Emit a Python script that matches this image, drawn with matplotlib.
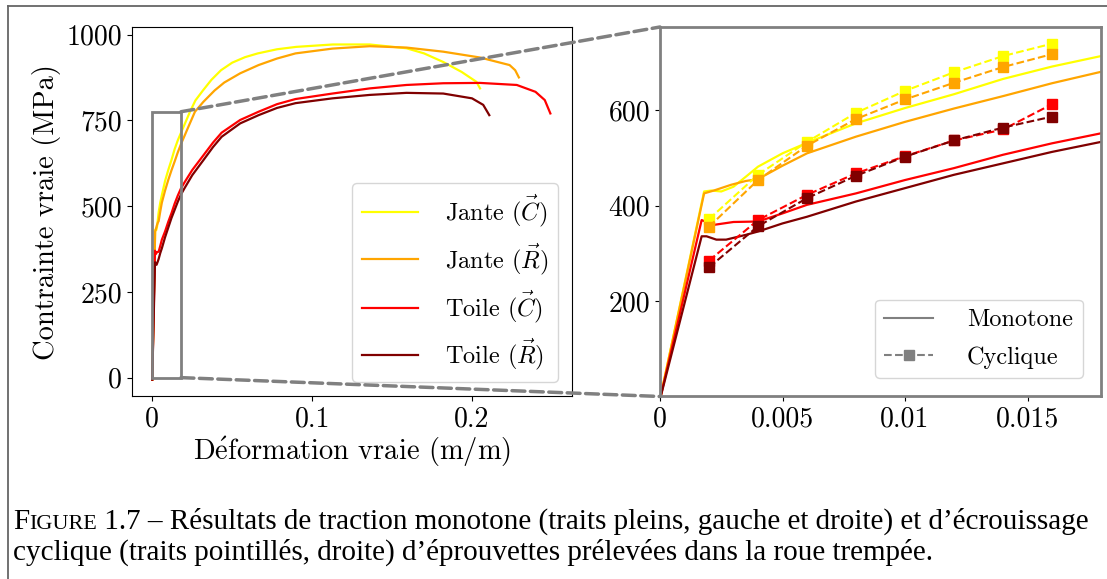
import matplotlib
matplotlib.use('Agg')
import matplotlib.pyplot as plt
from matplotlib.patches import Rectangle, ConnectionPatch
from matplotlib.lines import Line2D

plt.rcParams['font.family'] = 'serif'
plt.rcParams['font.serif'] = ['cmr10']
plt.rcParams['mathtext.fontset'] = 'cm'
plt.rcParams['axes.unicode_minus'] = False
plt.rcParams['axes.formatter.use_mathtext'] = True

# monotone tests: true strain (m/m) / true stress (MPa)
eps_jc = [0, 0.0018, 0.0021, 0.0025, 0.003, 0.0036, 0.004, 0.005, 0.006, 0.008, 0.010, 0.012,
          0.014, 0.016, 0.018, 0.0236, 0.027, 0.0317, 0.037, 0.043, 0.05, 0.058, 0.066, 0.078,
          0.09, 0.113, 0.136, 0.159, 0.170, 0.182, 0.1935, 0.2028, 0.205]
sig_jc = [-6, 430, 432, 430, 440, 465, 482, 510, 532, 573, 605, 634,
          666, 692, 714, 775, 808, 837, 868, 896, 918, 934, 945, 957,
          964, 971, 971, 960, 945, 920, 891, 862, 843]

eps_jr = [0, 0.0018, 0.0022, 0.0029, 0.0035, 0.004, 0.005, 0.006, 0.008, 0.010, 0.012, 0.014,
          0.016, 0.018, 0.0225, 0.0267, 0.032, 0.039, 0.045, 0.055, 0.0665, 0.078, 0.0896,
          0.1127, 0.136, 0.159, 0.182, 0.205, 0.2235, 0.227, 0.2293]
sig_jr = [-6, 426, 432, 444, 452, 456, 484, 510, 545, 576, 604, 630,
          657, 681, 730, 775, 804, 837, 860, 887, 911, 930, 945,
          959, 966, 962, 950, 933, 911, 896, 875]

eps_tc = [0, 0.0017, 0.0022, 0.003, 0.004, 0.005, 0.006, 0.008, 0.010, 0.012, 0.014, 0.016,
          0.018, 0.0203, 0.025, 0.032, 0.038, 0.0434, 0.055, 0.0665, 0.078, 0.0896, 0.1127,
          0.136, 0.159, 0.182, 0.205, 0.228, 0.2397, 0.2455, 0.249]
sig_tc = [-6, 370, 360, 366, 367, 384, 402, 426, 454, 479, 507, 531,
          552, 570, 605, 648, 685, 714, 751, 775, 797, 812, 828,
          843, 853, 858, 859, 853, 833, 809, 770]

eps_tr = [0, 0.0017, 0.0019, 0.0023, 0.0027, 0.0035, 0.004, 0.005, 0.006, 0.008, 0.010, 0.012,
          0.014, 0.016, 0.018, 0.0203, 0.025, 0.032, 0.038, 0.0434, 0.055, 0.0665, 0.078,
          0.0896, 0.1127, 0.136, 0.159, 0.182, 0.2, 0.207, 0.2108]
sig_tr = [-6, 336, 336, 329, 329, 339, 346, 363, 377, 409, 437, 465,
          489, 513, 534, 553, 590, 634, 672, 702, 741, 765, 786,
          800, 814, 824, 830, 828, 814, 795, 765]

# cyclic hardening points
eps_cyc = [0.002, 0.004, 0.006, 0.008, 0.010, 0.012, 0.014, 0.016]
cyc_jc = [372, 465, 534, 595, 641, 680, 714, 740]
cyc_jr = [356, 454, 526, 582, 623, 658, 691, 718]
cyc_tc = [285, 370, 423, 468, 504, 537, 560, 613]
cyc_tr = [271, 357, 416, 463, 503, 537, 564, 587]

labels = [r'Jante ($\vec{C}$)', r'Jante ($\vec{R}$)', r'Toile ($\vec{C}$)', r'Toile ($\vec{R}$)']
colors = ['#ffff00', '#ffa500', '#ff0000', '#800000']

fig = plt.figure(figsize=(11.07, 5.79), dpi=100)
ax1 = fig.add_axes([0.1192, 0.3152, 0.3979, 0.6382])
ax2 = fig.add_axes([0.5962, 0.3152, 0.3984, 0.6382])

mono = [(eps_jc, sig_jc), (eps_jr, sig_jr), (eps_tc, sig_tc), (eps_tr, sig_tr)]
for (e, s), c, lab in zip(mono, colors, labels):
    ax1.plot(e, s, color=c, lw=1.6, label=lab)
    ax2.plot(e, s, color=c, lw=1.6)

for cyc, c in zip([cyc_jc, cyc_jr, cyc_tc, cyc_tr], colors):
    ax2.plot(eps_cyc, cyc, '--s', color=c, lw=1.5, ms=7)

# left axes
ax1.set_xlim(-0.0127, 0.2628)
ax1.set_ylim(-55, 1022)
ax1.set_xticks([0, 0.1, 0.2])
ax1.set_xticklabels(['0', '0.1', '0.2'])
ax1.set_yticks([0, 250, 500, 750, 1000])
ax1.set_yticklabels(['0', '250', '500', '750', '1000'])
ax1.tick_params(labelsize=20)
ax1.set_xlabel(r'D$\acute{\mathrm{e}}$formation vraie (m/m)', fontsize=20.5, labelpad=2)
ax1.set_ylabel('Contrainte vraie (MPa)', fontsize=20.5)
ax1.legend(loc='lower right', fontsize=17.5, handlelength=2.3, handletextpad=1.1,
           borderaxespad=0.6)

# zoom box
ax1.add_patch(Rectangle((0, 0), 0.018, 775, fill=False, edgecolor='gray', lw=2, zorder=5))

# right axes
ax2.set_xlim(0, 0.018)
ax2.set_ylim(0, 775)
ax2.set_xticks([0, 0.005, 0.01, 0.015])
ax2.set_xticklabels(['0', '0.005', '0.01', '0.015'])
ax2.set_yticks([200, 400, 600])
ax2.set_yticklabels(['200', '400', '600'])
ax2.tick_params(labelsize=20)
for sp in ax2.spines.values():
    sp.set_edgecolor('gray')
    sp.set_linewidth(2)
handles = [Line2D([], [], color='gray', lw=1.5, label='Monotone'),
           Line2D([], [], color='gray', ls='--', marker='s', ms=7, lw=1.5, label='Cyclique')]
ax2.legend(handles=handles, loc='lower right', fontsize=17.5, handlelength=2.0,
           handletextpad=1.4, borderaxespad=0.75, labelspacing=0.6)

for ya, yb in [(775, 1), (0, 0)]:
    con = ConnectionPatch(xyA=(0.018, ya), coordsA='data', axesA=ax1,
                          xyB=(0, yb), coordsB='axes fraction', axesB=ax2,
                          color='gray', lw=2.5, ls='--')
    fig.add_artist(con)

# page frame
fig.add_artist(Line2D([7.5 / 1107, 7.5 / 1107], [0, 1 - 5.7 / 579], color='#666666', lw=1.3))
fig.add_artist(Line2D([7.5 / 1107, 1], [1 - 5.7 / 579, 1 - 5.7 / 579], color='#666666', lw=1.3))

# caption with small caps "Figure"
renderer = fig.canvas.get_renderer()
cap_font = 'Liberation Serif'
cap_size = 21
line1 = [('F', cap_size), ('IGURE', cap_size * 0.76),
         (' 1.7 – Résultats de traction monotone (traits pleins, gauche et droite) et d’écrouissage',
          cap_size)]
x = 13 / 1107
for s, size in line1:
    t = fig.text(x, 1 - 529 / 579, s, fontsize=size, family=cap_font, va='baseline')
    x += t.get_window_extent(renderer).width / fig.bbox.width
fig.text(13 / 1107, 1 - 560 / 579,
         'cyclique (traits pointillés, droite) d’éprouvettes prélevées dans la roue trempée.',
         fontsize=cap_size, family=cap_font, va='baseline')

fig.savefig('out.png', dpi=100)
